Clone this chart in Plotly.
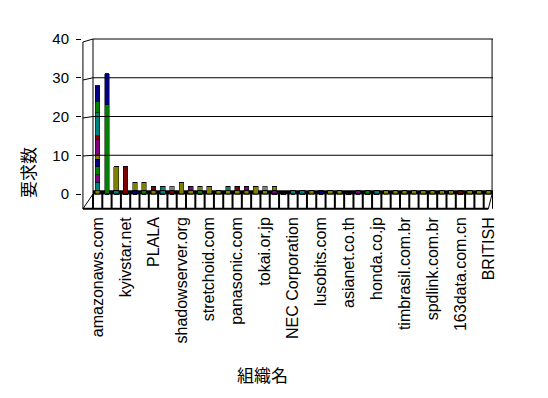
import plotly.graph_objects as go

# ---- data -------------------------------------------------------------
n_categories = 43
label_positions = [0, 3, 6, 9, 12, 15, 18, 21, 24, 27, 30, 33, 36, 39, 42]
tick_labels = ["amazonaws.com", "kyivstar.net", "PLALA", "shadowserver.org",
               "stretchoid.com", "panasonic.com", "tokai.or.jp", "NEC Corporation",
               "lusobits.com", "asianet.co.th", "honda.co.jp", "timbrasil.com.br",
               "spdlink.com.br", "163data.com.cn", "BRITISH"]

s01 = [1,0,0,0,0, 0,1,0,0,3, 1,0,2,1,1, 1,1,2,1,0, 0,0,0,1,0, 1,1,0,0,0, 0,1,1,1,1, 1,1,1,1,0, 1,1,1]
s02 = [2,0,1,0,0, 0,0,1,0,0, 0,0,0,0,1, 0,0,0,0,0, 0,1,1,0,0, 0,0,0,0,0, 1,0,0,0,0, 0,0,0,0,0, 0,0,0]
s03 = [2,0,0,0,0, 0,0,0,0,0, 1,0,0,0,0, 0,1,0,0,1, 0,0,0,0,0, 0,0,0,1,0, 0,0,0,0,0, 0,0,0,0,0, 0,0,0]
s04 = [2,0,0,0,0, 1,0,0,0,0, 0,1,0,0,0, 0,0,0,0,0, 0,0,0,0,0, 0,0,0,0,1, 0,0,0,0,0, 0,0,0,0,0, 0,0,0]
s05 = [2,0,0,0,1, 0,0,0,0,0, 0,0,0,0,0, 0,0,0,0,0, 0,0,0,0,1, 0,0,0,0,0, 0,0,0,0,0, 0,0,0,0,0, 0,0,0]
s06 = [1,0,6,0,2, 2,0,0,0,0, 0,1,0,0,0, 0,0,0,0,1, 0,0,0,0,0, 0,0,0,0,0, 0,0,0,0,0, 0,0,0,0,0, 0,0,0]
s07 = [4,0,0,0,0, 0,0,0,0,0, 0,0,0,0,0, 0,0,0,0,0, 0,0,0,0,0, 0,0,0,0,0, 0,0,0,0,0, 0,0,0,0,0, 0,0,0]
s08 = [1,0,0,7,0, 0,1,0,1,0, 0,0,0,0,0, 1,0,0,0,0, 0,0,0,0,0, 0,0,0,0,0, 0,0,0,0,0, 0,0,0,0,1, 0,0,0]
s09 = [6,0,0,0,0, 0,0,1,0,0, 0,0,0,0,0, 0,0,0,0,0, 0,0,0,0,0, 0,0,0,0,0, 0,0,0,0,0, 0,0,0,0,0, 0,0,0]
s10 = [3,23,0,0,0, 0,0,0,0,0, 0,0,0,0,0, 0,0,0,0,0, 0,0,0,0,0, 0,0,0,0,0, 0,0,0,0,0, 0,0,0,0,0, 0,0,0]
s11 = [4,8,0,0,0, 0,0,0,0,0, 0,0,0,0,0, 0,0,0,0,0, 0,0,0,0,0, 0,0,0,0,0, 0,0,0,0,0, 0,0,0,0,0, 0,0,0]
s12 = [0,0,0,0,0, 0,0,0,1,0, 0,0,0,0,0, 0,0,0,1,0, 0,0,0,0,0, 0,0,0,0,0, 0,0,0,0,0, 0,0,0,0,0, 0,0,0]

series = [s01, s02, s03, s04, s05, s06, s07, s08, s09, s10, s11, s12]
colors = ["#808000", "#008080", "#800080", "#008000", "#000080", "#808000",
          "#800080", "#800000", "#008080", "#008000", "#000080", "#808080"]

y_ticks = [0, 10, 20, 30, 40]
y_max = 40
y_title = "要求数"
x_title = "組織名"

# ---- layout geometry (page pixels of the reference) -------------------
OFF = 8                        # default body margin of the html page
W, H = 548 - OFF, 398 - OFF
area_l, area_r, area_t, area_b = 82, 493, 35, 210   # whole drawing box
wall_l, wall_t, wall_b = 93, 39, 194                 # back wall
L, R, T, B = area_l - OFF, W - (area_r - OFF), area_t - OFF, H - (area_b - OFF)
pw, ph = W - L - R, H - T - B

unit_px = (wall_b - wall_t) / y_max
y_lo = -(area_b - wall_b) / unit_px
y_hi = y_max + (wall_t - area_t) / unit_px
cell_px = (area_r - wall_l) / n_categories
x_first, x_last = -0.5, n_categories - 0.5
x_lo = x_first - (wall_l - area_l) / cell_px
x_hi = x_last


def px_x(p):   # reference pixel -> paper
    return (p - area_l) / pw


def px_y(p):
    return (area_b - p) / ph


x = list(range(n_categories))
fig = go.Figure()
for vals, col in zip(series, colors):
    fig.add_trace(go.Bar(x=x, y=vals, width=0.5,
                         marker=dict(color=col, line=dict(color="black", width=0.5)),
                         showlegend=False, hoverinfo="skip"))

FONT = "Liberation Sans, Noto Sans CJK JP, sans-serif"
ls = dict(color="black", width=1)
floor_ls = dict(color="black", width=2)
eps_x = 0.1
eps_y = 0.3
front_x = x_lo + eps_x
floor_front = y_lo + eps_y
front_top = y_max - 3 / unit_px


def seg(x0, y0, x1, y1, line=ls):
    return dict(type="line", xref="x", yref="y", x0=x0, y0=y0, x1=x1, y1=y1,
                line=line, layer="above")


shapes = [
    dict(type="rect", xref="x", yref="y", x0=x_first, x1=x_last, y0=0, y1=1,
         fillcolor="black", line=dict(width=0), layer="below"),
    seg(x_first, 0, x_first, y_max), seg(x_last - eps_x, 0, x_last - eps_x, y_max),
    seg(x_first, y_max, x_last, y_max), seg(x_first, 0, x_last, 0),
    seg(front_x, floor_front, front_x, front_top),
    seg(front_x, front_top, x_first, y_max),
    seg(front_x, floor_front, x_first, 0),
    seg(front_x, floor_front, x_last - 0.5, floor_front, floor_ls),
    seg(x_last - 0.5, floor_front, x_last - eps_x, 0),
]
for v in y_ticks[1:-1]:
    shapes.append(seg(x_first, v, x_last, v))
    shapes.append(seg(front_x, v * front_top / y_max, x_first, v))
for i in range(n_categories + 1):
    shapes.append(seg(i - 0.5, 0, i - 0.5, floor_front, floor_ls))

fig.update_layout(
    width=W, height=H,
    margin=dict(l=L, r=R, t=T, b=B, pad=0, autoexpand=False),
    paper_bgcolor="white", plot_bgcolor="white",
    barmode="stack", bargap=0.5,
    font=dict(family=FONT, color="black"),
    shapes=shapes,
    annotations=[
        dict(text=y_title, xref="paper", yref="paper", x=px_x(29), y=px_y(172),
             xanchor="center", yanchor="middle", textangle=-90, showarrow=False,
             font=dict(size=17, family=FONT, color="black")),
        dict(text=x_title, xref="paper", yref="paper", x=px_x(262), y=px_y(376),
             xanchor="center", yanchor="middle", showarrow=False,
             font=dict(size=17, family=FONT, color="black")),
    ],
    xaxis=dict(
        range=[x_lo, x_hi],
        tickmode="array", tickvals=label_positions, ticktext=tick_labels,
        tickangle=-90, tickfont=dict(size=16, family=FONT, color="black"),
        ticks="", ticklabelstandoff=3,
        showgrid=False, zeroline=False, showline=False,
        fixedrange=True,
    ),
    yaxis=dict(
        range=[y_lo, y_hi], tickmode="array", tickvals=y_ticks,
        tickfont=dict(size=15, family=FONT, color="black"),
        ticks="outside", ticklen=5, tickcolor="black", tickwidth=1,
        ticklabelstandoff=4,
        showgrid=False, zeroline=False, showline=False,
        fixedrange=True,
    ),
)

fig.write_html("out.html")
